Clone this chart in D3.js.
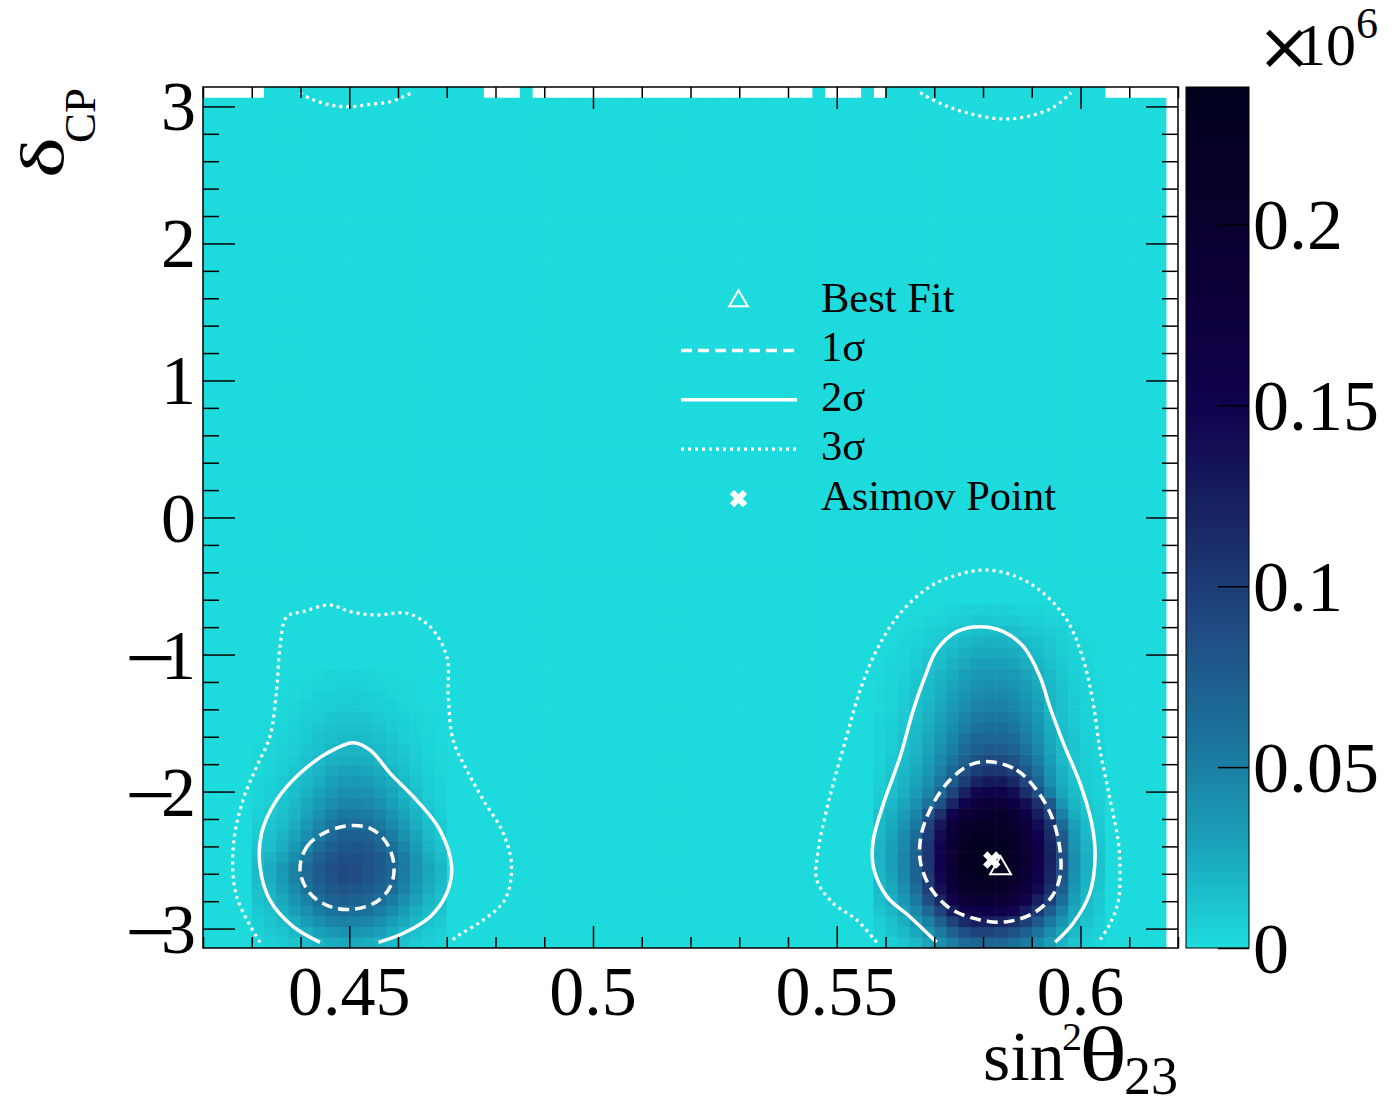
<!DOCTYPE html>
<html><head><meta charset="utf-8">
<script src="https://cdn.jsdelivr.net/npm/d3@7"></script>
<style>
body{margin:0;background:#fff;}
text{font-family:"Liberation Serif","Times New Roman",serif;fill:#000;}
</style>
</head><body>
<svg id="chart" width="1396" height="1106"></svg>
<script>
// ---------------- DATA ----------------
const xDomain = [0.42, 0.62];              // sin^2(theta23)
const yDomain = [-Math.PI, Math.PI];       // delta_CP
const nBinsX = 80, nBinsY = 80;
const xTicksMajor = [0.45, 0.5, 0.55, 0.6];
const xTickLabels = ["0.45", "0.5", "0.55", "0.6"];
const yTicksMajor = [-3, -2, -1, 0, 1, 2, 3];
const zMax = 0.238;                        // x10^6
const zTicks = [0, 0.05, 0.1, 0.15, 0.2];
const zTickLabels = ["0", "0.05", "0.1", "0.15", "0.2"];

// bin contents in thousands; near-empty bins sit at this level
const backgroundLevel = 1;
// top row (delta ~ +pi): 1 = filled, 0 = empty bin
const topRowFilled = "00000" + "111111111111111111" + "000" + "1" +
  "00000000000000000000000" + "1" + "000" + "1" + "0" +
  "111111111111111111" + "000000";
const emptyColumns = [79];

// left island: columns start at sin2=0.43, rows listed from delta-row 25 down to row 0
const leftBlobX0 = 0.43, leftBlobTopRow = 25;
const leftBlob = [
  [1,1,1,2,2,3,4,4,4,4,3,3,2,2,1,1],
  [1,1,2,2,3,4,5,6,6,5,4,3,3,2,1,1],
  [1,2,2,3,4,6,7,8,8,7,6,4,3,2,2,1],
  [2,2,3,4,6,7,8,9,9,8,7,6,4,3,2,2],
  [2,2,3,5,7,8,11,12,12,11,9,8,6,4,3,2],
  [2,3,4,6,8,11,13,14,14,13,12,9,7,5,3,2],
  [2,3,5,7,9,13,15,17,17,16,14,11,8,6,4,2],
  [3,4,6,8,11,14,18,20,20,19,17,14,10,7,4,3],
  [3,4,7,9,13,17,21,24,24,23,20,15,12,8,5,3],
  [3,5,8,11,15,20,26,29,29,27,24,19,14,9,6,3],
  [4,6,9,13,18,24,30,34,34,32,28,23,17,11,7,4],
  [4,7,10,15,21,28,35,40,40,38,33,27,20,14,8,5],
  [5,8,12,18,25,33,41,47,47,44,39,31,24,16,10,6],
  [6,9,14,20,29,39,48,55,55,53,47,37,28,20,12,7],
  [8,11,16,24,34,46,57,65,65,62,55,44,33,23,14,9],
  [9,13,20,28,40,53,65,73,73,71,64,53,39,27,17,10],
  [12,15,23,34,48,62,73,80,80,77,71,61,46,32,20,13],
  [14,20,28,41,57,71,80,85,85,82,76,67,51,36,24,15],
  [17,24,34,49,65,77,85,89,88,83,77,69,53,38,27,19],
  [16,23,33,48,63,75,83,88,87,82,75,68,52,37,26,18],
  [14,20,30,43,58,70,78,82,81,77,70,63,48,34,24,16],
  [13,18,26,37,49,61,70,73,72,68,61,53,40,29,20,14],
  [10,14,21,30,40,51,59,62,61,58,52,43,32,23,16,11],
  [8,11,16,23,31,40,47,49,48,46,41,32,25,18,13,9],
  [6,9,12,17,23,30,34,37,36,34,30,24,18,13,9,7],
  [4,6,9,12,16,20,24,26,26,24,20,16,13,9,7,5]
];

// right island: columns start at sin2=0.5575, rows from delta-row 31 down to row 0
const rightBlobX0 = 0.5575, rightBlobTopRow = 31;
const rightBlob = [
  [1,1,1,2,2,3,4,5,5,6,6,5,4,4,3,2,1,1,1],
  [1,1,2,3,4,5,7,8,10,10,10,9,8,7,5,4,2,1,1],
  [1,2,3,4,6,8,10,13,15,16,16,14,12,10,8,6,4,2,1],
  [2,2,4,5,7,10,14,17,20,21,21,19,16,13,10,7,4,3,2],
  [2,3,4,7,10,13,18,22,25,26,26,24,20,16,12,8,5,3,2],
  [2,4,5,8,12,16,21,26,30,31,31,28,24,19,14,10,6,4,2],
  [2,4,6,10,14,19,24,30,34,35,35,33,28,22,17,11,7,4,2],
  [3,4,7,11,16,21,27,33,38,40,40,37,32,25,18,12,8,5,3],
  [3,5,8,13,17,23,30,37,43,45,45,42,35,27,19,13,8,5,3],
  [3,5,9,14,19,26,34,42,48,50,50,46,39,30,20,14,9,5,3],
  [4,6,10,15,21,29,38,47,53,56,56,52,44,34,21,14,9,5,4],
  [4,7,11,17,24,32,42,52,59,62,62,57,48,37,23,15,10,6,4],
  [5,8,13,18,26,35,47,58,66,69,69,64,53,41,25,16,11,6,4],
  [5,8,14,20,28,39,52,64,73,77,77,71,59,45,28,17,11,7,5],
  [5,10,16,22,31,44,58,72,85,90,90,82,68,51,32,18,12,7,5],
  [6,11,18,25,35,50,66,84,100,106,106,96,78,58,36,21,12,8,5],
  [7,13,20,28,40,57,77,100,120,128,128,116,92,67,41,23,14,8,5],
  [8,15,23,32,47,67,93,122,145,153,153,140,112,85,52,27,16,9,6],
  [9,18,27,39,57,85,118,152,175,182,182,168,138,108,78,36,19,11,7],
  [15,22,32,46,80,110,150,185,200,203,203,190,160,125,92,50,24,13,8],
  [16,25,37,55,95,130,175,205,215,215,212,200,175,140,108,65,30,16,9],
  [18,28,42,62,100,142,188,215,225,225,220,208,183,150,115,76,34,18,10],
  [20,30,45,68,105,148,193,222,232,232,226,214,188,156,120,82,38,20,12],
  [20,31,47,70,106,150,196,225,235,235,229,216,191,159,122,84,40,21,13],
  [19,30,46,70,104,148,193,225,235,235,228,215,190,158,121,84,40,21,13],
  [18,28,44,68,102,144,188,218,228,228,222,208,184,152,117,80,38,20,12],
  [16,25,40,62,97,136,178,205,215,215,210,197,172,142,110,74,35,19,11],
  [14,22,35,54,86,118,156,182,190,190,186,175,152,124,98,62,31,17,10],
  [11,18,29,44,66,94,126,150,160,160,156,146,127,103,74,48,26,15,9],
  [8,14,22,34,50,72,96,115,124,124,120,111,97,78,55,37,21,12,7],
  [6,11,17,26,38,54,72,87,94,94,91,84,73,59,42,28,17,9,6],
  [5,8,12,18,28,40,53,64,69,69,67,62,54,43,31,20,12,7,4]
];

// contours [sin2, delta]
const sigma1Left = [[0.4399,-2.572],[0.4413,-2.402],[0.4447,-2.305],[0.4495,-2.251],[0.4543,-2.268],[0.4577,-2.378],[0.4592,-2.548],[0.4584,-2.694],[0.4556,-2.804],[0.4508,-2.859],[0.4461,-2.840],[0.4419,-2.742]];
const sigma1Right = [[0.5814,-1.782],[0.5869,-1.843],[0.5910,-1.989],[0.5941,-2.183],[0.5958,-2.427],[0.5958,-2.621],[0.5941,-2.767],[0.5903,-2.888],[0.5849,-2.950],[0.5794,-2.937],[0.5732,-2.852],[0.5691,-2.694],[0.5671,-2.499],[0.5674,-2.305],[0.5698,-2.086],[0.5732,-1.916],[0.5773,-1.806]];
const sigma2Left = [[0.4440,-3.10],[0.4385,-2.986],[0.4337,-2.791],[0.4317,-2.548],[0.4320,-2.305],[0.4351,-2.062],[0.4399,-1.867],[0.4454,-1.721],[0.4508,-1.643],[0.4543,-1.697],[0.4584,-1.867],[0.4638,-2.062],[0.4686,-2.281],[0.4710,-2.548],[0.4700,-2.742],[0.4666,-2.913],[0.4611,-3.034],[0.4560,-3.10]];
const sigma2Right = [[0.5705,-3.10],[0.5650,-2.913],[0.5603,-2.767],[0.5575,-2.548],[0.5575,-2.354],[0.5596,-2.086],[0.5630,-1.746],[0.5657,-1.405],[0.5681,-1.162],[0.5705,-0.967],[0.5746,-0.833],[0.5794,-0.797],[0.5842,-0.833],[0.5883,-0.943],[0.5917,-1.162],[0.5937,-1.381],[0.5965,-1.648],[0.5999,-1.940],[0.6023,-2.232],[0.6030,-2.475],[0.6019,-2.742],[0.5985,-2.961],[0.5948,-3.10]];
const sigma3Left = [[0.4317,-3.10],[0.4269,-2.767],[0.4262,-2.402],[0.4282,-2.062],[0.4310,-1.819],[0.4337,-1.600],[0.4351,-1.259],[0.4358,-0.943],[0.4372,-0.724],[0.4405,-0.687],[0.4461,-0.639],[0.4502,-0.687],[0.4556,-0.712],[0.4618,-0.699],[0.4666,-0.797],[0.4700,-1.016],[0.4703,-1.308],[0.4713,-1.624],[0.4741,-1.843],[0.4775,-2.062],[0.4816,-2.305],[0.4833,-2.548],[0.4819,-2.791],[0.4775,-2.937],[0.4720,-3.059],[0.4707,-3.10]];
const sigma3Right = [[0.5582,-3.10],[0.5541,-2.937],[0.5493,-2.815],[0.5459,-2.645],[0.5462,-2.427],[0.5476,-2.183],[0.5493,-1.940],[0.5520,-1.600],[0.5548,-1.259],[0.5582,-0.967],[0.5630,-0.699],[0.5691,-0.505],[0.5746,-0.420],[0.5808,-0.383],[0.5869,-0.432],[0.5924,-0.553],[0.5972,-0.748],[0.6006,-1.040],[0.6026,-1.356],[0.6040,-1.697],[0.6061,-2.062],[0.6078,-2.378],[0.6081,-2.572],[0.6078,-2.791],[0.6061,-2.961],[0.6037,-3.10]];
const sigma3TopLeft = [[0.4399,3.10],[0.4419,3.059],[0.4461,3.010],[0.4502,2.998],[0.4543,3.015],[0.4584,3.034],[0.4611,3.071],[0.4628,3.10]];
const sigma3TopRight = [[0.5671,3.10],[0.5714,3.019],[0.5765,2.955],[0.5836,2.909],[0.5894,2.929],[0.5944,2.993],[0.5981,3.10]];

const bestFit = [0.5836, -2.56];
const asimovPoint = [0.5818, -2.50];

const legendLabels = ["Best Fit", "1σ", "2σ", "3σ", "Asimov Point"];

// ROOT kDeepSea palette stops (inverted)
const deepSeaR = [0, 9, 13, 17, 24, 32, 27, 25, 29];
const deepSeaG = [0, 0, 0, 2, 37, 74, 113, 160, 221];
const deepSeaB = [28, 42, 59, 78, 98, 129, 154, 184, 221];

// ---------------- DRAW ----------------
const svg = d3.select("#chart");
const plot = {left: 203, right: 1178, top: 87, bottom: 948};
const xs = d3.scaleLinear().domain(xDomain).range([plot.left, plot.right]);
const ys = d3.scaleLinear().domain(yDomain).range([plot.bottom, plot.top]);

const nStops = deepSeaR.length;
const paletteColors = deepSeaR.map((r, i) => d3.rgb(deepSeaR[nStops-1-i], deepSeaG[nStops-1-i], deepSeaB[nStops-1-i]).toString());
const zStops = paletteColors.map((c, i) => zMax * i / (nStops - 1));
const zColor = d3.scaleLinear().domain(zStops).range(paletteColors).interpolate(d3.interpolateRgb).clamp(true);

const dx = (xDomain[1] - xDomain[0]) / nBinsX;
const dy = (yDomain[1] - yDomain[0]) / nBinsY;

// build bin table
const grid = [];
for (let j = 0; j < nBinsY; j++) {
  const row = [];
  for (let i = 0; i < nBinsX; i++) {
    let v = backgroundLevel;
    if (emptyColumns.includes(i)) v = 0;
    if (j === nBinsY - 1 && topRowFilled[i] === "0") v = 0;
    row.push(v);
  }
  grid.push(row);
}
function overlay(blob, x0, topRow) {
  const i0 = Math.round((x0 - xDomain[0]) / dx);
  blob.forEach((r, ri) => {
    const j = topRow - ri;
    r.forEach((v, ci) => { grid[j][i0 + ci] = Math.max(grid[j][i0 + ci], v); });
  });
}
overlay(leftBlob, leftBlobX0, leftBlobTopRow);
overlay(rightBlob, rightBlobX0, rightBlobTopRow);

const cells = [];
grid.forEach((row, j) => row.forEach((v, i) => { if (v > 0) cells.push({i, j, v}); }));

const defs = svg.append("defs");
defs.append("clipPath").attr("id", "plotClip").append("rect")
  .attr("x", plot.left).attr("y", plot.top)
  .attr("width", plot.right - plot.left).attr("height", plot.bottom - plot.top);

const gHeat = svg.append("g").attr("clip-path", "url(#plotClip)");
gHeat.selectAll("rect").data(cells).join("rect")
  .attr("x", d => xs(xDomain[0] + d.i * dx))
  .attr("y", d => ys(yDomain[0] + (d.j + 1) * dy))
  .attr("width", d => xs(xDomain[0] + (d.i + 1) * dx) - xs(xDomain[0] + d.i * dx) + 0.6)
  .attr("height", d => ys(yDomain[0] + d.j * dy) - ys(yDomain[0] + (d.j + 1) * dy) + 0.6)
  .attr("fill", d => zColor(d.v / 1000));

// contours
const lineOpen = d3.line().x(d => xs(d[0])).y(d => ys(d[1])).curve(d3.curveCatmullRom.alpha(0.5));
const lineClosed = d3.line().x(d => xs(d[0])).y(d => ys(d[1])).curve(d3.curveCatmullRomClosed.alpha(0.5));
const gCont = svg.append("g").attr("clip-path", "url(#plotClip)").attr("fill", "none").attr("stroke", "#fff");
const styles = {
  s1: {w: 3.5, dash: "11,6"},
  s2: {w: 3.5, dash: null},
  s3: {w: 3.2, dash: "3,4"}
};
[[sigma3Left, "s3", false], [sigma3Right, "s3", false], [sigma3TopLeft, "s3", false], [sigma3TopRight, "s3", false],
 [sigma2Left, "s2", false], [sigma2Right, "s2", false],
 [sigma1Left, "s1", true], [sigma1Right, "s1", true]].forEach(([pts, s, closed]) => {
  gCont.append("path").attr("d", (closed ? lineClosed : lineOpen)(pts))
    .attr("stroke-width", styles[s].w)
    .attr("stroke-dasharray", styles[s].dash);
});

// markers
const triPath = d3.symbol(d3.symbolTriangle, 190)();
const crossPath = d3.symbol(d3.symbolCross, 190)();
svg.append("path").attr("d", crossPath)
  .attr("transform", `translate(${xs(asimovPoint[0])},${ys(asimovPoint[1])}) rotate(45)`)
  .attr("fill", "#fff");
svg.append("path").attr("d", triPath)
  .attr("transform", `translate(${xs(bestFit[0])},${ys(bestFit[1])})`)
  .attr("fill", "none").attr("stroke", "#fff").attr("stroke-width", 2);

// legend
const legX = 738.5, legY0 = 301, legStep = 49.4, legTextX = 821;
const gLeg = svg.append("g");
legendLabels.forEach((lab, k) => {
  const yy = legY0 + k * legStep;
  if (k === 0) {
    gLeg.append("path").attr("d", d3.symbol(d3.symbolTriangle, 150)())
      .attr("transform", `translate(${legX},${yy})`)
      .attr("fill", "none").attr("stroke", "#fff").attr("stroke-width", 2);
  } else if (k === 4) {
    gLeg.append("path").attr("d", d3.symbol(d3.symbolCross, 190)())
      .attr("transform", `translate(${legX},${yy}) rotate(45)`).attr("fill", "#fff");
  } else {
    const st = styles["s" + k];
    gLeg.append("line").attr("x1", 681).attr("x2", 797).attr("y1", yy).attr("y2", yy)
      .attr("stroke", "#fff").attr("stroke-width", st.w).attr("stroke-dasharray", st.dash);
  }
  gLeg.append("text").attr("x", legTextX).attr("y", yy + 11).attr("font-size", 42.5).text(lab);
});

// frame + ticks
function styleAxis(g) {
  g.select(".domain").remove();
  g.selectAll("line").attr("stroke", "#000").attr("stroke-width", 1.5);
}
const xMinor = xs.ticks(20).filter(t => !xTicksMajor.some(m => Math.abs(m - t) < 1e-6));
const yMinor = ys.ticks(30).filter(t => !yTicksMajor.some(m => Math.abs(m - t) < 1e-6));
svg.append("g").attr("transform", `translate(0,${plot.bottom})`)
  .call(d3.axisBottom(xs).tickValues(xMinor).tickSize(-11).tickSizeOuter(0).tickFormat("")).call(styleAxis);
svg.append("g").attr("transform", `translate(0,${plot.bottom})`)
  .call(d3.axisBottom(xs).tickValues(xTicksMajor).tickSize(-22).tickSizeOuter(0).tickFormat("")).call(styleAxis);
svg.append("g").attr("transform", `translate(0,${plot.top})`)
  .call(d3.axisTop(xs).tickValues(xMinor).tickSize(-11).tickSizeOuter(0).tickFormat("")).call(styleAxis);
svg.append("g").attr("transform", `translate(0,${plot.top})`)
  .call(d3.axisTop(xs).tickValues(xTicksMajor).tickSize(-22).tickSizeOuter(0).tickFormat("")).call(styleAxis);
svg.append("g").attr("transform", `translate(${plot.left},0)`)
  .call(d3.axisLeft(ys).tickValues(yMinor).tickSize(-16).tickSizeOuter(0).tickFormat("")).call(styleAxis);
svg.append("g").attr("transform", `translate(${plot.left},0)`)
  .call(d3.axisLeft(ys).tickValues(yTicksMajor).tickSize(-32).tickSizeOuter(0).tickFormat("")).call(styleAxis);
svg.append("g").attr("transform", `translate(${plot.right},0)`)
  .call(d3.axisRight(ys).tickValues(yMinor).tickSize(-16).tickSizeOuter(0).tickFormat("")).call(styleAxis);
svg.append("g").attr("transform", `translate(${plot.right},0)`)
  .call(d3.axisRight(ys).tickValues(yTicksMajor).tickSize(-32).tickSizeOuter(0).tickFormat("")).call(styleAxis);

svg.append("rect").attr("x", plot.left).attr("y", plot.top)
  .attr("width", plot.right - plot.left).attr("height", plot.bottom - plot.top)
  .attr("fill", "none").attr("stroke", "#000").attr("stroke-width", 1.5);

// x tick labels
xTicksMajor.forEach((t, k) => {
  svg.append("text").attr("x", xs(t)).attr("y", 1015).attr("text-anchor", "middle")
    .attr("font-size", 70).text(xTickLabels[k]);
});
// y tick labels (ROOT-style long minus)
yTicksMajor.forEach(t => {
  const tx = svg.append("text").attr("x", 196).attr("y", ys(t) + 24)
    .attr("text-anchor", "end").attr("font-size", 70);
  if (t < 0) {
    tx.append("tspan").attr("font-size", 90).attr("dy", 9).text("−");
    tx.append("tspan").attr("dx", -15).attr("dy", -9).text(String(Math.abs(t)));
  } else {
    tx.text(String(t));
  }
});

// axis titles
svg.append("text").attr("x", 983).attr("y", 1080).attr("font-size", 70).text("sin");
svg.append("text").attr("x", 1062).attr("y", 1050).attr("font-size", 40).text("2");
svg.append("text").attr("transform", "translate(1103,1080) scale(1.32,1)")
  .attr("text-anchor", "middle").attr("font-size", 76).text("θ");
svg.append("text").attr("x", 1124).attr("y", 1094).attr("font-size", 54).text("23");

svg.append("text").attr("transform", "translate(63,157.5) rotate(-90) scale(1.4,1)")
  .attr("text-anchor", "middle").attr("font-size", 62).text("δ");
svg.append("text").attr("transform", "translate(95,88) rotate(-90)")
  .attr("text-anchor", "end").attr("font-size", 45).text("CP");

// colour bar
const cb = {left: 1186, right: 1249, top: plot.top, bottom: plot.bottom};
const grad = defs.append("linearGradient").attr("id", "zGrad")
  .attr("x1", 0).attr("y1", 1).attr("x2", 0).attr("y2", 0);
paletteColors.forEach((c, i) => grad.append("stop").attr("offset", i / (nStops - 1)).attr("stop-color", c));
const zy = d3.scaleLinear().domain([0, zMax]).range([cb.bottom, cb.top]);
svg.append("rect").attr("x", cb.left).attr("y", cb.top)
  .attr("width", cb.right - cb.left).attr("height", cb.bottom - cb.top)
  .attr("fill", "url(#zGrad)").attr("stroke", "#000").attr("stroke-width", 1);
svg.append("g").attr("transform", `translate(${cb.right},0)`)
  .call(d3.axisRight(zy).tickValues(zTicks).tickSize(-31).tickSizeOuter(0).tickFormat("")).call(styleAxis);
zTicks.forEach((t, k) => {
  svg.append("text").attr("x", 1253).attr("y", zy(t) + 25).attr("font-size", 72).text(zTickLabels[k]);
});
// exponent label
svg.append("text").attr("x", 1257).attr("y", 69).attr("font-size", 66)
  .style("font-family", "'DejaVu Sans', sans-serif").text("×");
svg.append("text").attr("x", 1296).attr("y", 65).attr("font-size", 60).text("10");
svg.append("text").attr("x", 1356).attr("y", 38).attr("font-size", 44).text("6");
</script>
</body></html>
